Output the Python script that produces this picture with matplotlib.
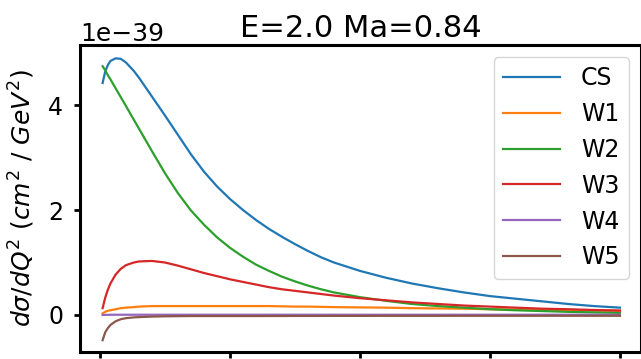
import numpy as np
import matplotlib
matplotlib.use("Agg")
import matplotlib.pyplot as plt

# Q^2 grid (GeV^2) and differential cross sections in units of 1e-39 cm^2/GeV^2
q2 = [0.01, 0.02, 0.03, 0.04, 0.06, 0.08, 0.10, 0.13, 0.15,
      0.20, 0.25, 0.30, 0.35, 0.40, 0.45, 0.50, 0.55, 0.60, 0.65, 0.70,
      0.75, 0.80, 0.85, 0.90,
      1.0, 1.1, 1.2, 1.3, 1.4, 1.5, 1.6, 1.7, 1.8, 1.9, 2.0]

cs = [4.42, 4.64, 4.76, 4.84, 4.89, 4.88, 4.81, 4.65, 4.52,
      4.16, 3.80, 3.43, 3.06, 2.73, 2.45, 2.21, 2.00, 1.81, 1.64, 1.49,
      1.35, 1.22, 1.10, 1.00,
      0.84, 0.71, 0.60, 0.51, 0.43, 0.36, 0.31, 0.26, 0.21, 0.17, 0.14]
w1 = [0.03, 0.06, 0.08, 0.09, 0.11, 0.13, 0.14, 0.15, 0.16,
      0.17, 0.17, 0.17, 0.17, 0.17, 0.17, 0.17, 0.17, 0.17, 0.17, 0.165,
      0.16, 0.16, 0.155, 0.15,
      0.145, 0.14, 0.13, 0.125, 0.12, 0.11, 0.105, 0.10, 0.09, 0.085, 0.08]
w2 = [4.74, 4.66, 4.57, 4.49, 4.32, 4.15, 3.98, 3.72, 3.55,
      3.12, 2.70, 2.32, 1.99, 1.72, 1.48, 1.28, 1.11, 0.96, 0.84, 0.73,
      0.64, 0.56, 0.49, 0.43,
      0.34, 0.27, 0.21, 0.17, 0.14, 0.11, 0.09, 0.075, 0.06, 0.05, 0.04]
w3 = [0.13, 0.33, 0.48, 0.60, 0.77, 0.88, 0.95, 1.00, 1.02,
      1.03, 1.00, 0.94, 0.87, 0.80, 0.74, 0.68, 0.63, 0.58, 0.53, 0.49,
      0.46, 0.43, 0.40, 0.37,
      0.32, 0.28, 0.24, 0.21, 0.18, 0.16, 0.14, 0.12, 0.11, 0.095, 0.085]
w4 = [0.000, 0.002, 0.003, 0.004, 0.005, 0.005, 0.005, 0.005, 0.005,
      0.005, 0.005, 0.005, 0.005, 0.005, 0.005, 0.005, 0.005, 0.005, 0.005, 0.005,
      0.005, 0.005, 0.005, 0.005,
      0.005, 0.005, 0.005, 0.005, 0.005, 0.005, 0.005, 0.005, 0.005, 0.005, 0.005]
w5 = [-0.48, -0.33, -0.25, -0.19, -0.12, -0.08, -0.06, -0.045, -0.04,
      -0.03, -0.025, -0.022, -0.02, -0.02, -0.02, -0.02, -0.02, -0.02, -0.019, -0.019,
      -0.018, -0.018, -0.018, -0.017,
      -0.017, -0.016, -0.016, -0.016, -0.015, -0.015, -0.015, -0.015, -0.015, -0.015, -0.015]

series = {"CS": cs, "W1": w1, "W2": w2, "W3": w3, "W4": w4, "W5": w5}

fig = plt.figure(figsize=(6.41, 3.59), dpi=100)
ax = fig.add_axes([0.1248, 0.0195, 0.8752, 0.855])

for name, vals in series.items():
    ax.plot(q2, np.array(vals) * 1e-39, lw=1.6, label=name)

ax.set_xlim(-0.077, 2.081)
ax.set_ylim(-0.705e-39, 5.143e-39)
ax.set_xticks([0, 0.5, 1.0, 1.5, 2.0])
ax.set_yticks([0, 2e-39, 4e-39])
ax.tick_params(labelsize=17, width=2, length=4, pad=8)
ax.tick_params(axis="x", labelbottom=False)
ax.yaxis.get_offset_text().set_fontsize(18)
for sp in ax.spines.values():
    sp.set_linewidth(2.2)

ax.set_title("E=2.0 Ma=0.84", fontsize=22)
ax.set_ylabel(r"$d\sigma/dQ^2\ (cm^2\ /\ GeV^2)$", fontsize=18, labelpad=8)
ax.legend(loc="upper right", fontsize=17, handlelength=2.4, handletextpad=0.9)

fig.savefig("out.png", dpi=100)
